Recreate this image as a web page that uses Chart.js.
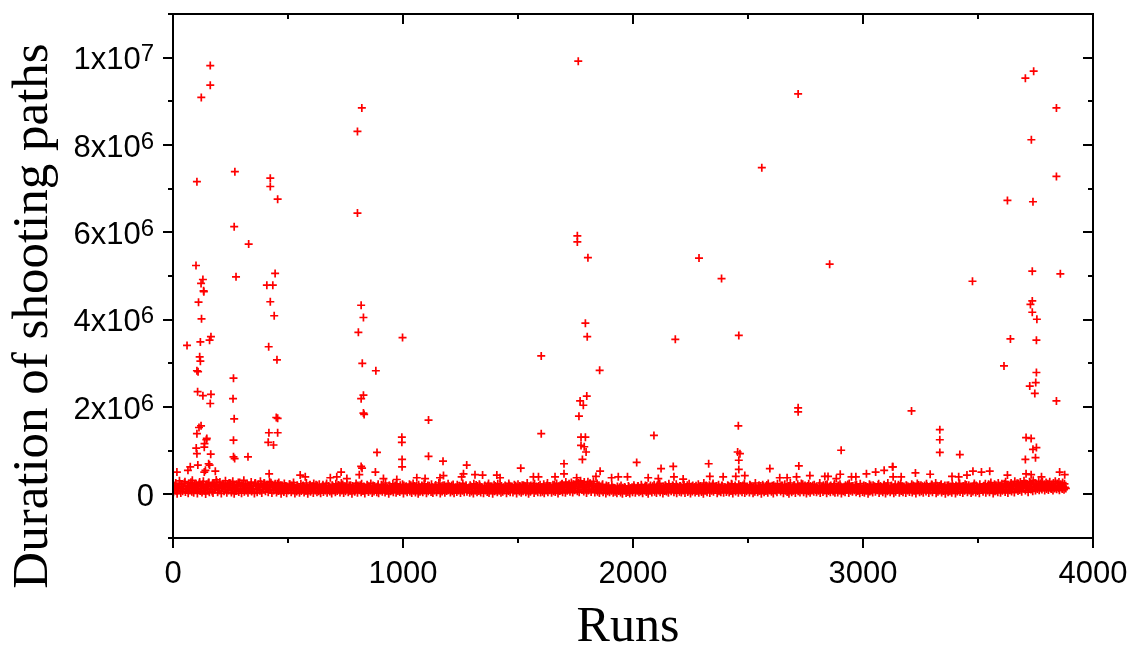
<!DOCTYPE html>
<html>
<head>
<meta charset="utf-8">
<script src="https://cdn.jsdelivr.net/npm/chart.js@4.4.1/dist/chart.umd.min.js"></script>
<style>
  html, body { margin: 0; padding: 0; background: #ffffff; }
  #wrap { width: 1130px; height: 648px; }
</style>
</head>
<body>
<div id="wrap"><canvas id="c" width="1130" height="648"></canvas></div>
<script>
// ---------------- DATA ----------------
// Bulk of runs: one value every 4 runs starting at run 2 (values in thousands)
const bandStartRun = 2;
const bandRunStep = 4;
const bandK = [
45,120,210,80,15,160,95,240,30,185,70,130,260,55,110,200,25,150,90,275,
60,175,35,220,100,140,20,195,250,75,125,40,230,165,85,10,180,115,265,50,
145,205,65,30,235,105,170,280,45,135,95,215,20,155,245,70,190,120,35,225,
85,160,255,40,110,200,15,140,75,230,175,55,270,100,25,185,130,60,215,90,
240,35,150,95,205,65,125,180,20,260,110,45,195,155,80,235,30,170,115,250,
70,140,220,50,185,100,265,30,160,90,210,120,40,245,75,175,135,15,200,105,
55,130,190,25,150,85,230,110,45,170,95,205,20,140,65,180,120,35,160,75,
115,200,40,145,80,175,15,125,210,60,100,185,30,155,90,220,50,135,70,165,
25,110,190,55,140,85,205,35,120,170,65,150,20,195,95,130,45,180,75,215,
105,40,160,90,225,30,135,70,185,115,50,200,80,145,15,175,100,60,190,125,
35,155,95,210,45,130,75,180,20,140,100,195,55,165,85,120,30,205,65,150,
110,45,185,25,135,90,220,60,150,100,40,175,80,125,15,195,70,160,105,50,
140,200,35,115,75,170,55,145,95,230,20,130,85,185,45,160,110,65,210,30,
125,80,190,40,155,100,15,175,60,135,205,50,120,90,165,25,145,70,195,105,
55,170,30,140,85,215,45,125,100,180,20,150,65,200,110,35,160,75,130,95,
185,40,145,70,225,25,115,165,55,135,90,195,30,150,80,175,45,120,210,60,
100,155,35,185,65,130,20,170,90,215,50,140,75,195,40,160,110,25,180,85,
120,55,200,30,145,95,175,15,135,70,190,105,45,165,80,220,35,125,60,150,
90,180,25,140,75,205,50,115,160,40,130,85,195,20,150,100,65,175,35,210,
70,125,185,45,155,95,15,170,60,140,110,200,30,135,80,165,50,190,105,40,
145,60,175,25,120,85,205,45,155,95,180,35,130,70,215,55,160,100,20,185,
75,140,230,50,165,110,35,195,80,150,245,60,125,175,40,210,95,135,260,70,
185,45,155,240,100,205,65,170,120,30,225,90,145,255,55,180,115,200,40,160,
95,60,175,30,130,85,200,45,140,105,20,165,70,190,50,120,80,155,35,145,
60,110,25,135,75,160,40,100,15,125,85,145,30,115,55,170,20,95,130,50,
105,165,35,140,80,190,45,120,70,175,25,150,95,200,55,130,15,160,85,115,
40,185,100,60,155,30,210,90,135,50,170,115,20,145,75,195,65,125,35,180,
150,70,115,205,45,160,95,25,175,130,60,190,40,140,85,220,30,120,165,55,
90,135,20,180,65,150,110,40,195,75,125,35,170,100,55,160,15,145,85,200,
45,175,120,30,155,80,210,60,135,100,185,25,145,70,165,50,195,110,35,130,
160,55,95,190,40,140,75,225,20,125,170,65,150,105,35,180,85,130,50,205,
100,30,165,70,145,115,40,200,90,135,25,175,60,155,120,45,190,80,140,15,
130,185,50,110,75,215,35,160,95,140,60,195,20,125,170,85,45,150,105,180,
65,120,200,25,145,90,170,55,135,15,185,100,45,160,80,210,30,115,150,70,
175,40,125,95,230,50,155,110,20,190,70,140,35,165,85,205,60,130,100,45,
150,80,195,30,120,170,55,140,90,215,25,135,75,180,45,160,105,65,200,35,
115,165,40,145,85,190,20,130,70,175,50,155,100,225,30,125,80,185,60,140,
95,210,45,160,75,135,25,180,110,55,195,35,150,90,170,15,125,65,205,100,
40,145,185,60,120,95,215,30,165,80,140,50,200,105,20,175,70,155,115,45,
190,85,130,25,170,60,150,100,220,35,125,75,185,45,160,110,30,195,90,140,
55,175,105,40,200,80,135,20,165,95,215,50,145,70,185,35,120,160,65,190,
110,30,155,85,225,45,140,100,175,25,195,60,130,90,210,40,150,75,180,15,
135,200,50,115,70,160,35,190,95,145,20,175,65,125,240,55,165,105,30,185,
80,140,215,45,120,90,175,30,155,65,200,110,40,185,75,135,25,170,100,150,
60,195,125,35,160,85,230,50,140,105,180,20,150,70,210,95,45,165,120,35,
175,80,145,240,55,190,110,30,160,95,225,65,135,200,40,170,120,255,75,150,
100,210,60,175,130,245,85,160,195,50,140,265,110,180,70,225,150,90,205,120,
165,95,200,140,110,215,155,85,190,125,175,100,210,145,120,185,90,160,135,200,
115,170,140,95,195,150,120,180,105,160,135
];

// Upper part of the bulk: one value every 8 runs starting at run 4 (values in thousands)
const bandHighStartRun = 4;
const bandHighRunStep = 8;
const bandHighK = [
180,260,140,310,220,170,290,130,250,200,320,160,240,110,280,190,300,150,230,270,
120,250,200,330,170,280,140,230,310,190,260,150,300,210,130,270,180,240,320,160,
210,140,280,190,250,120,230,300,170,260,200,150,290,220,180,240,130,270,210,160,
250,180,120,230,200,270,150,210,110,240,190,160,260,130,220,180,250,140,200,230,
160,220,140,250,190,120,210,170,240,130,200,260,150,180,230,110,210,190,140,250,
200,130,240,170,110,220,180,250,140,190,160,230,120,210,170,260,150,200,130,240,
180,240,150,210,130,200,170,110,230,160,250,140,190,220,120,180,240,160,200,130,
230,150,190,120,260,170,140,210,180,240,130,200,160,110,220,190,150,250,170,140,
120,210,170,240,140,190,230,160,110,200,150,250,180,130,220,170,240,140,190,160,
200,140,250,180,120,220,160,230,190,130,210,170,260,150,200,120,240,180,140,220,
170,230,150,260,190,140,220,180,250,130,210,240,160,280,200,150,270,230,190,300,
260,310,220,280,180,290,240,200,300,170,250,210,160,230,140,200,180,120,210,150,
130,180,110,200,150,170,120,190,140,160,210,130,180,150,220,120,170,190,140,200,
160,220,140,190,250,130,180,210,150,240,120,200,170,230,140,190,160,220,130,210,
240,150,200,170,130,230,190,140,260,180,120,210,160,250,140,190,220,130,200,170,
150,210,180,240,130,200,160,230,190,120,250,170,140,220,180,150,260,130,210,190,
220,140,190,250,170,130,210,180,240,150,200,120,230,170,190,260,140,210,160,230,
180,250,130,200,160,240,190,140,220,170,130,260,150,210,180,230,120,200,170,240,
140,200,230,160,120,210,180,250,150,190,140,220,170,240,130,200,190,160,230,150,
210,170,130,240,190,150,220,180,260,140,200,160,230,120,190,250,170,140,210,180,
160,230,190,140,250,170,210,130,200,240,150,180,220,160,260,140,190,230,170,200,
130,210,180,240,150,200,170,250,140,190,230,160,210,120,180,250,200,150,230,170,
190,240,160,210,270,180,230,150,260,200,240,170,290,220,190,260,210,300,180,250,
280,230,310,250,200,290,240,320,260,220,300,250,280,230,270,240,290,220,260,300,
250,280,230,270,240
];

// Isolated long runs (run number, duration in millions)
const outlierRuns = [
162,162,123,104,100,130,122,133,134,111,124,165,159,119,61,116,119,104,109,107,130,165,162,
122,113,104,137,145,147,101,104,136,164,155,159,75,65,108,17,184,141,136,
269,266,329,274,263,261,266,263,263,268,326,
423,423,455,444,408,434,423,440,416,452,449,455,417,455,414,437,418,
821,802,802,818,828,806,823,882,828,818,828,831,887,818,822,810,880,731,
998,995,995,996,996,1111,1111,1174,1277,1313,1346,1176,1263,
1762,1758,1758,1804,1793,1801,1855,1799,1770,1784,1765,1774,1793,1774,1788,1796,1780,1857,
1601,1601,2184,2287,2091,1700,1700,1512,2016,2122,2175,1661,
2718,2560,2385,2855,2460,2718,2718,2458,2455,2465,2460,2905,2329,2595,2721,3128,3092,3055,3015,2901,2460,
3742,3706,3841,3732,3841,3628,3739,3476,3736,3858,3736,3728,3736,3756,3641,3754,3613,3754,3751,3725,3747,3841,
3211,3334,3334,3334,3421,3709,3731,3739,3754,3750,3706,3130,3228,3292,3478,3515,3551,3452,3387,3416,3628,3855,3877,3776,3709,3731,3166,
553,575,684,712,756,915,973,1060,1096,1161,1255,1408,
1422,1567,1589,1755,1839,1907,1936,1976,2066,2110,2178,2218,
2334,2392,2447,2486,2638,2670,2711,2769,2834,2848,2884,2950,2969,3131
];
const outlierValsM = [
9.82,9.37,9.09,7.16,5.24,4.92,4.83,4.66,4.64,4.40,4.02,3.61,3.53,3.49,3.41,3.15,3.05,2.83,2.81,2.35,2.26,2.29,2.08,
1.57,1.53,1.39,1.16,1.25,1.28,1.06,0.93,1.08,0.92,0.70,0.67,0.63,0.55,0.67,0.51,0.53,0.55,0.51,
7.39,6.13,5.73,4.98,2.66,2.19,1.73,1.24,0.86,0.82,0.86,
7.24,7.05,6.76,5.06,4.79,4.79,4.41,4.09,3.38,3.08,1.76,1.74,1.41,1.41,1.19,1.13,0.47,
8.85,8.31,6.44,4.33,4.05,3.71,3.00,2.83,2.27,2.19,1.86,1.83,0.96,0.64,0.60,0.45,0.51,0.51,
3.59,1.31,1.19,0.80,0.63,1.70,0.87,0.76,0.67,0.45,0.44,0.43,0.47,
9.92,5.92,5.78,5.42,3.92,3.61,2.84,2.25,2.14,2.04,1.79,1.31,1.31,1.12,1.09,0.97,0.80,0.53,
3.17,1.39,3.55,5.41,1.35,0.70,0.47,0.60,0.73,0.59,0.64,0.40,
9.17,7.48,4.94,5.27,3.64,1.98,1.89,1.57,0.97,0.93,0.78,1.01,0.70,0.59,0.65,0.63,0.55,0.51,0.47,0.46,0.57,
9.69,9.53,8.85,8.12,7.28,6.73,6.70,4.88,5.11,5.05,4.43,4.35,4.17,4.01,3.56,3.53,2.94,2.79,2.56,2.48,2.31,2.14,
1.91,1.48,1.25,0.96,0.91,1.30,1.28,1.03,1.07,0.84,0.80,0.63,0.49,0.46,0.53,0.51,0.53,0.44,0.41,0.40,0.44,0.51,0.45,0.40,0.47,0.45,0.40,
0.44,0.40,0.38,0.40,0.36,0.36,0.34,0.38,0.36,0.38,0.40,0.44,
0.38,0.40,0.40,0.38,0.41,0.38,0.40,0.40,0.38,0.36,0.40,0.35,
0.41,0.40,0.41,0.43,0.38,0.38,0.40,0.43,0.41,0.41,0.36,0.40,0.40,0.40
];

// Axis ticks and labels
const xMin = 0, xMax = 4000, xMajorStep = 1000, xMinorStep = 500;
const yMin = -1e6, yMax = 1.1e7, yMajorStep = 2e6, yMinorStep = 1e6;
const yTickValues = [0, 2e6, 4e6, 6e6, 8e6, 1e7];
const yTickMantissa = ['0', '2x10', '4x10', '6x10', '8x10', '1x10'];
const yTickExponent = ['', '6', '6', '6', '6', '7'];
const xTitle = 'Runs';
const yTitle = 'Duration of shooting paths';

// ---------------- BUILD ----------------
const bandPoints = bandK.map((v, i) => ({ x: bandStartRun + i * bandRunStep, y: v * 1000 }))
  .concat(bandHighK.map((v, i) => ({ x: bandHighStartRun + i * bandHighRunStep, y: v * 1000 })));
const outlierPoints = outlierRuns.map((r, i) => ({ x: r, y: outlierValsM[i] * 1e6 }));

const SANS = '"Liberation Sans", Arial, sans-serif';
const SERIF = '"Liberation Serif", "Times New Roman", serif';

const framePlugin = {
  id: 'frame',
  afterDatasetsDraw(chart) {
    const { ctx, chartArea: a, scales } = chart;
    const xs = scales.x, ys = scales.y;
    ctx.save();
    ctx.strokeStyle = '#000';
    ctx.lineWidth = 2;
    ctx.lineCap = 'butt';
    ctx.strokeRect(a.left, a.top, a.right - a.left, a.bottom - a.top);
    ctx.beginPath();
    for (let v = xMin; v <= xMax; v += xMinorStep) {
      const px = Math.round(xs.getPixelForValue(v));
      const L = (v % xMajorStep === 0) ? 10 : 5;
      ctx.moveTo(px, a.bottom); ctx.lineTo(px, a.bottom + L);
      ctx.moveTo(px, a.top); ctx.lineTo(px, a.top + L);
    }
    for (let v = yMin; v <= yMax; v += yMinorStep) {
      const py = Math.round(ys.getPixelForValue(v));
      const L = (v % yMajorStep === 0) ? 10 : 5;
      ctx.moveTo(a.left, py); ctx.lineTo(a.left - L, py);
      ctx.moveTo(a.right, py); ctx.lineTo(a.right - L, py);
    }
    ctx.stroke();

    // y tick labels with superscript exponents
    ctx.fillStyle = '#000';
    ctx.textBaseline = 'alphabetic';
    ctx.textAlign = 'left';
    const xRight = a.left - 19;
    yTickValues.forEach((v, i) => {
      const py = ys.getPixelForValue(v);
      ctx.font = '31px ' + SANS;
      const w1 = ctx.measureText(yTickMantissa[i]).width;
      ctx.font = '24px ' + SANS;
      const w2 = yTickExponent[i] ? ctx.measureText(yTickExponent[i]).width : 0;
      const x0 = xRight - w1 - w2;
      ctx.font = '31px ' + SANS;
      ctx.fillText(yTickMantissa[i], x0, py + 11.5);
      if (yTickExponent[i]) {
        ctx.font = '24px ' + SANS;
        ctx.fillText(yTickExponent[i], x0 + w1, py + 3.5);
      }
    });

    // axis titles
    ctx.textAlign = 'center';
    ctx.font = '50px ' + SERIF;
    ctx.fillText(xTitle, 628, 641);
    ctx.font = '51px ' + SERIF;
    ctx.save();
    ctx.translate(47, 316);
    ctx.rotate(-Math.PI / 2);
    ctx.fillText(yTitle, 0, 0);
    ctx.restore();
    ctx.restore();
  }
};

new Chart(document.getElementById('c'), {
  type: 'scatter',
  data: {
    datasets: [
      { label: 'band', data: bandPoints, pointStyle: 'cross', pointRadius: 4, pointBorderWidth: 1.7,
        borderColor: '#ff0000', backgroundColor: '#ff0000', pointHoverRadius: 4 },
      { label: 'outliers', data: outlierPoints, pointStyle: 'cross', pointRadius: 4, pointBorderWidth: 1.7,
        borderColor: '#ff0000', backgroundColor: '#ff0000', pointHoverRadius: 4 }
    ]
  },
  options: {
    responsive: false,
    animation: false,
    devicePixelRatio: 1,
    layout: { padding: { left: 0, right: 37, top: 14, bottom: 0 } },
    plugins: { legend: { display: false }, tooltip: { enabled: false } },
    events: [],
    scales: {
      x: {
        type: 'linear', min: xMin, max: xMax,
        grid: { display: false, drawTicks: false },
        border: { display: false },
        ticks: {
          stepSize: xMinorStep, autoSkip: false, maxRotation: 0, padding: 18,
          color: '#000', font: { family: SANS, size: 31 },
          callback: (v) => (v % xMajorStep === 0 ? String(v) : '')
        },
        afterFit: (s) => { s.height = 110; s.paddingLeft = 0; s.paddingRight = 0; }
      },
      y: {
        type: 'linear', min: yMin, max: yMax,
        grid: { display: false, drawTicks: false },
        border: { display: false },
        ticks: { display: false, stepSize: yMinorStep },
        afterFit: (s) => { s.width = 173; s.paddingTop = 0; s.paddingBottom = 0; }
      }
    }
  },
  plugins: [framePlugin]
});
</script>
</body>
</html>
